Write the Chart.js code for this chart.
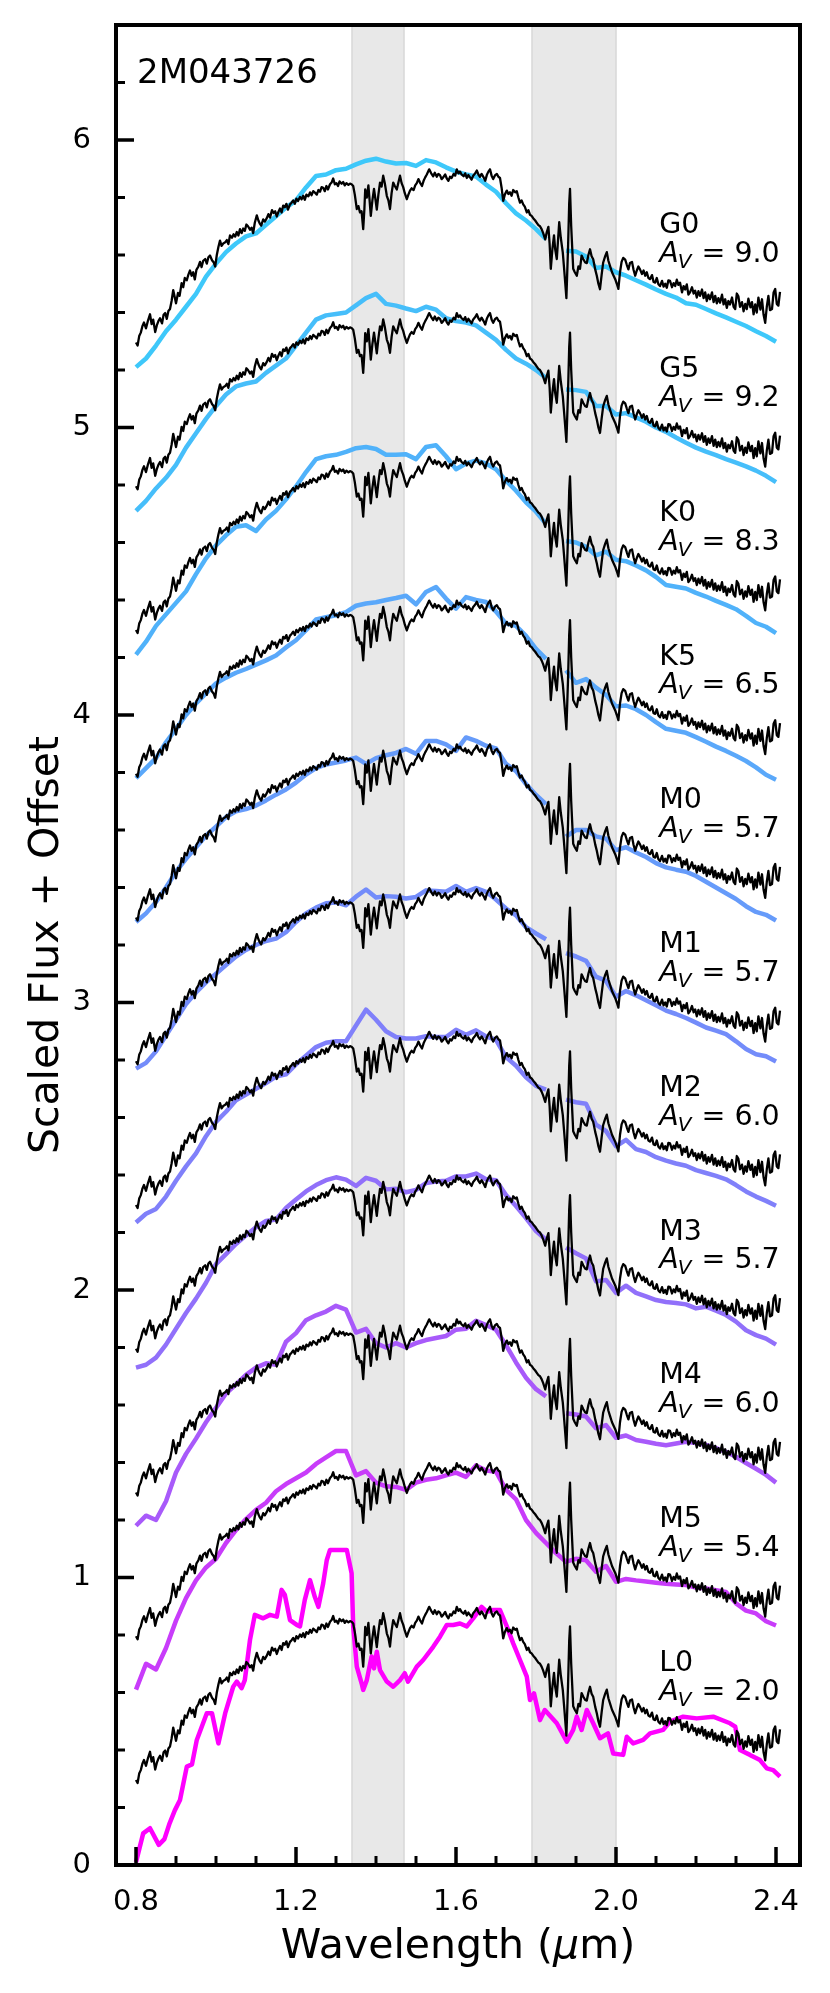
<!DOCTYPE html>
<html>
<head>
<meta charset="utf-8">
<script src="https://cdn.jsdelivr.net/npm/chart.js@4.4.0/dist/chart.umd.min.js"></script>
<style>
  html, body { margin: 0; padding: 0; background: #fff; }
</style>
</head>
<body>
<canvas id="grafico" width="830" height="1993"></canvas>
<script>
// objeto y rejilla de ejes
const nombreObjeto = '2M043726';
const xTicks = [0.8, 1.2, 1.6, 2.0, 2.4];
const xMinorTicks = [0.9, 1.0, 1.1, 1.3, 1.4, 1.5, 1.7, 1.8, 1.9, 2.1, 2.2, 2.3];
const yTicks = [0, 1, 2, 3, 4, 5, 6];
const yMinorTicks = [0.2, 0.4, 0.6, 0.8, 1.2, 1.4, 1.6, 1.8, 2.2, 2.4, 2.6, 2.8, 3.2, 3.4, 3.6, 3.8,
                     4.2, 4.4, 4.6, 4.8, 5.2, 5.4, 5.6, 5.8, 6.2];
// bandas telluricas sombreadas (micras)
const bandas = [[1.34, 1.47], [1.79, 2.0]];

// tipos espectrales, extincion y desplazamiento vertical de cada fila
const tipos = ['G0', 'G5', 'K0', 'K5', 'M0', 'M1', 'M2', 'M3', 'M4', 'M5', 'L0'];
const extinciones = ['9.0', '9.2', '8.3', '6.5', '5.7', '5.7', '6.0', '5.7', '6.0', '5.4', '2.0'];
const desplazamientos = [5.0, 4.5, 4.0, 3.5, 3.0, 2.5, 2.0, 1.5, 1.0, 0.5, 0.0];
const colores = ['rgb(62,200,250)', 'rgb(70,190,250)', 'rgb(80,178,250)', 'rgb(90,168,250)',
                 'rgb(102,155,250)', 'rgb(115,140,250)', 'rgb(128,128,250)', 'rgb(145,112,250)',
                 'rgb(168,90,250)', 'rgb(200,60,250)', 'rgb(255,0,255)'];

// espectro observado (sin desplazamiento): [longitud de onda, flujo]
const espectroObs = [
  [0.800,0.296],[0.804,0.285],[0.808,0.318],[0.812,0.330],[0.816,0.352],[0.820,0.365],[0.825,0.345],[0.830,0.372],
  [0.835,0.394],[0.839,0.360],[0.843,0.375],[0.848,0.332],[0.852,0.355],[0.856,0.370],[0.860,0.380],[0.865,0.362],
  [0.869,0.392],[0.873,0.398],[0.877,0.378],[0.881,0.405],[0.885,0.412],[0.889,0.440],[0.893,0.478],[0.897,0.452],
  [0.900,0.432],[0.905,0.468],[0.909,0.458],[0.914,0.502],[0.918,0.488],[0.922,0.520],[0.927,0.512],[0.931,0.532],
  [0.935,0.546],[0.939,0.528],[0.943,0.540],[0.947,0.515],[0.951,0.548],[0.956,0.560],[0.960,0.576],[0.964,0.558],
  [0.968,0.580],[0.973,0.586],[0.977,0.570],[0.981,0.592],[0.985,0.598],[0.990,0.582],[0.994,0.575],[0.998,0.560],
  [1.002,0.600],[1.006,0.628],[1.010,0.650],[1.014,0.632],[1.018,0.640],[1.023,0.644],[1.027,0.652],[1.031,0.638],
  [1.035,0.668],[1.040,0.660],[1.044,0.672],[1.048,0.664],[1.052,0.680],[1.056,0.668],[1.060,0.690],[1.064,0.676],
  [1.068,0.692],[1.072,0.684],[1.076,0.706],[1.080,0.700],[1.085,0.688],[1.089,0.695],[1.093,0.676],[1.097,0.712],
  [1.102,0.738],[1.106,0.720],[1.110,0.708],[1.113,0.702],[1.118,0.724],[1.122,0.716],[1.127,0.728],[1.131,0.742],
  [1.135,0.730],[1.140,0.756],[1.144,0.746],[1.148,0.752],[1.152,0.734],[1.156,0.750],[1.160,0.762],[1.164,0.748],
  [1.168,0.772],[1.172,0.766],[1.176,0.778],[1.180,0.758],[1.185,0.776],[1.189,0.782],[1.193,0.790],[1.197,0.778],
  [1.201,0.796],[1.205,0.788],[1.210,0.802],[1.214,0.794],[1.218,0.806],[1.222,0.792],[1.226,0.810],[1.231,0.804],
  [1.235,0.818],[1.239,0.808],[1.243,0.822],[1.248,0.816],[1.252,0.810],[1.256,0.826],[1.260,0.820],[1.264,0.836],
  [1.268,0.834],[1.272,0.822],[1.276,0.840],[1.280,0.828],[1.285,0.846],[1.289,0.852],[1.293,0.866],[1.297,0.846],
  [1.301,0.850],[1.305,0.840],[1.309,0.856],[1.314,0.848],[1.318,0.854],[1.322,0.842],[1.326,0.850],[1.331,0.844],
  [1.335,0.848],[1.339,0.846],[1.343,0.840],[1.347,0.810],[1.352,0.760],[1.356,0.770],[1.360,0.748],[1.364,0.752],
  [1.368,0.690],[1.371,0.760],[1.373,0.828],[1.377,0.800],[1.381,0.842],[1.384,0.790],[1.387,0.736],[1.391,0.790],
  [1.395,0.830],[1.398,0.800],[1.402,0.758],[1.406,0.810],[1.410,0.852],[1.414,0.838],[1.418,0.876],[1.422,0.850],
  [1.427,0.806],[1.431,0.790],[1.435,0.760],[1.439,0.815],[1.443,0.852],[1.447,0.840],[1.452,0.828],[1.456,0.852],
  [1.460,0.876],[1.464,0.850],[1.468,0.836],[1.472,0.815],[1.477,0.794],[1.481,0.810],[1.485,0.824],[1.489,0.832],
  [1.494,0.826],[1.498,0.842],[1.502,0.850],[1.506,0.864],[1.510,0.852],[1.515,0.840],[1.519,0.858],[1.523,0.870],
  [1.527,0.880],[1.533,0.898],[1.538,0.884],[1.543,0.874],[1.547,0.886],[1.552,0.872],[1.556,0.882],[1.560,0.878],
  [1.564,0.864],[1.568,0.870],[1.573,0.880],[1.577,0.866],[1.581,0.858],[1.585,0.872],[1.589,0.868],[1.594,0.882],
  [1.598,0.876],[1.602,0.898],[1.606,0.884],[1.610,0.890],[1.614,0.880],[1.619,0.874],[1.623,0.884],[1.627,0.868],
  [1.631,0.878],[1.635,0.870],[1.639,0.862],[1.643,0.876],[1.648,0.884],[1.652,0.894],[1.656,0.880],[1.660,0.872],
  [1.664,0.882],[1.669,0.870],[1.673,0.858],[1.677,0.878],[1.681,0.890],[1.685,0.898],[1.689,0.876],[1.693,0.864],
  [1.698,0.878],[1.702,0.882],[1.706,0.872],[1.710,0.868],[1.714,0.834],[1.718,0.788],[1.722,0.810],[1.727,0.824],
  [1.731,0.812],[1.735,0.818],[1.739,0.806],[1.743,0.826],[1.748,0.818],[1.752,0.822],[1.756,0.800],[1.760,0.782],
  [1.764,0.790],[1.768,0.776],[1.772,0.768],[1.777,0.748],[1.781,0.756],[1.785,0.740],[1.789,0.736],[1.793,0.728],
  [1.798,0.720],[1.802,0.712],[1.806,0.704],[1.810,0.700],[1.814,0.690],[1.818,0.676],[1.823,0.654],[1.827,0.680],
  [1.831,0.698],[1.834,0.640],[1.837,0.552],[1.841,0.620],[1.845,0.668],[1.848,0.620],[1.852,0.586],[1.855,0.650],
  [1.858,0.714],[1.862,0.660],[1.867,0.608],[1.871,0.540],[1.876,0.450],[1.880,0.620],[1.883,0.780],[1.885,0.830],
  [1.888,0.700],[1.893,0.552],[1.897,0.540],[1.902,0.528],[1.906,0.560],[1.910,0.552],[1.914,0.598],[1.918,0.586],
  [1.923,0.574],[1.927,0.572],[1.931,0.600],[1.935,0.620],[1.939,0.596],[1.943,0.585],[1.948,0.550],[1.952,0.528],
  [1.956,0.500],[1.960,0.481],[1.964,0.530],[1.968,0.574],[1.973,0.596],[1.977,0.610],[1.981,0.580],[1.985,0.562],
  [1.990,0.540],[1.994,0.528],[1.998,0.516],[2.002,0.500],[2.006,0.482],[2.010,0.540],[2.014,0.576],[2.018,0.590],
  [2.023,0.584],[2.027,0.566],[2.031,0.550],[2.035,0.572],[2.040,0.576],[2.044,0.548],[2.048,0.528],[2.052,0.546],
  [2.056,0.560],[2.060,0.550],[2.065,0.534],[2.069,0.546],[2.073,0.528],[2.077,0.540],[2.081,0.520],[2.085,0.516],
  [2.090,0.530],[2.094,0.506],[2.098,0.504],[2.102,0.520],[2.106,0.498],[2.110,0.492],[2.115,0.510],[2.119,0.490],
  [2.123,0.500],[2.127,0.486],[2.131,0.512],[2.135,0.510],[2.140,0.488],[2.144,0.502],[2.148,0.492],[2.152,0.514],
  [2.156,0.496],[2.160,0.504],[2.165,0.470],[2.169,0.492],[2.173,0.480],[2.177,0.498],[2.181,0.462],[2.185,0.470],
  [2.190,0.488],[2.194,0.466],[2.198,0.476],[2.202,0.452],[2.206,0.474],[2.210,0.458],[2.215,0.480],[2.219,0.450],
  [2.223,0.470],[2.227,0.440],[2.231,0.462],[2.235,0.446],[2.240,0.470],[2.244,0.436],[2.248,0.458],[2.252,0.432],
  [2.256,0.450],[2.260,0.434],[2.265,0.462],[2.269,0.428],[2.273,0.446],[2.277,0.416],[2.281,0.440],[2.285,0.428],
  [2.290,0.452],[2.294,0.420],[2.298,0.412],[2.302,0.466],[2.306,0.456],[2.310,0.420],[2.315,0.436],[2.319,0.404],
  [2.323,0.430],[2.327,0.412],[2.331,0.448],[2.336,0.418],[2.340,0.436],[2.344,0.394],[2.348,0.428],[2.352,0.400],
  [2.356,0.452],[2.361,0.410],[2.365,0.446],[2.369,0.392],[2.373,0.364],[2.377,0.420],[2.381,0.458],[2.385,0.408],
  [2.390,0.412],[2.394,0.470],[2.398,0.482],[2.402,0.430],[2.406,0.424],[2.410,0.472]
];

// rejilla comun de los modelos G0..M5 (null = hueco)
const modelWave = [0.800,0.825,0.850,0.875,0.900,0.925,0.950,0.975,1.000,1.025,1.050,1.075,1.100,1.125,1.150,
  1.175,1.200,1.225,1.250,1.275,1.300,1.325,1.350,1.375,1.400,1.425,1.450,1.475,1.500,1.525,1.550,1.575,1.600,
  1.625,1.650,1.675,1.700,1.725,1.750,1.775,1.800,1.825,1.850,1.875,1.900,1.925,1.950,1.975,2.000,2.025,2.050,
  2.075,2.100,2.125,2.150,2.175,2.200,2.225,2.250,2.275,2.300,2.325,2.350,2.375,2.400];
const fluxG0 = [0.21,0.24,0.285,0.335,0.375,0.42,0.465,0.525,0.57,0.61,0.64,0.665,0.675,0.705,0.735,0.765,0.79,
  0.835,0.875,0.88,0.895,0.90,0.915,0.928,0.935,0.925,0.918,0.92,0.91,0.93,0.922,0.905,0.89,0.88,0.873,0.845,
  0.82,0.78,0.745,0.72,0.69,0.655,null,0.615,0.612,0.595,0.555,0.56,0.54,0.528,0.512,0.497,0.48,0.465,0.452,
  0.432,0.427,0.412,0.397,0.383,0.368,0.353,0.335,0.318,0.298];
const fluxG5 = [0.21,0.245,0.288,0.325,0.37,0.43,0.48,0.53,0.575,0.615,0.643,0.653,0.66,0.69,0.715,0.74,0.785,
  0.83,0.875,0.89,0.895,0.9,0.925,0.95,0.965,0.93,0.924,0.914,0.905,0.92,0.91,0.88,0.87,0.865,0.855,0.83,0.805,
  0.77,0.74,0.722,0.7,0.672,null,0.632,0.63,0.624,0.575,0.575,0.545,0.55,0.535,0.52,0.5,0.485,0.465,0.447,0.43,
  0.416,0.404,0.39,0.378,0.365,0.35,0.332,0.31];
const fluxK0 = [0.21,0.255,0.31,0.35,0.39,0.43,0.49,0.545,0.59,0.625,0.655,0.66,0.64,0.68,0.71,0.75,0.795,0.845,
  0.89,0.9,0.905,0.915,0.928,0.932,0.925,0.905,0.905,0.907,0.89,0.932,0.938,0.9,0.855,0.875,0.885,0.875,0.855,
  0.815,0.78,0.74,0.707,0.665,null,0.605,0.6,0.585,0.555,0.568,0.54,0.535,0.52,0.503,0.48,0.452,0.446,0.44,0.425,
  0.412,0.397,0.383,0.368,0.345,0.32,0.307,0.285];
const fluxK5 = [0.28,0.315,0.35,0.405,0.452,0.5,0.54,0.575,0.61,0.63,0.647,0.66,0.675,0.69,0.707,0.735,0.76,0.795,
  0.832,0.84,0.847,0.858,0.88,0.888,0.892,0.9,0.907,0.915,0.885,0.928,0.945,0.905,0.87,0.91,0.9,0.893,0.86,0.818,
  0.81,0.775,0.73,0.695,null,0.655,0.612,0.625,0.595,0.57,0.53,0.533,0.52,0.5,0.475,0.452,0.445,0.438,0.423,0.407,
  0.39,0.375,0.358,0.34,0.318,0.292,0.275];
const fluxM0 = [0.28,0.31,0.35,0.4,0.455,0.5,0.54,0.58,0.612,0.645,0.665,0.673,0.685,0.703,0.723,0.741,0.765,0.793,
  0.815,0.828,0.835,0.842,0.852,0.83,0.85,0.86,0.868,0.882,0.865,0.91,0.91,0.898,0.875,0.922,0.91,0.893,0.884,0.83,
  0.805,0.76,0.722,0.69,null,0.577,0.6,0.6,0.578,0.57,0.53,0.54,0.522,0.506,0.485,0.47,0.462,0.455,0.44,0.42,0.4,
  0.38,0.36,0.335,0.315,0.305,0.285];
const fluxM1 = [0.27,0.29,0.33,0.385,0.44,0.495,0.535,0.57,0.6,0.63,0.66,0.683,0.7,0.714,0.722,0.745,0.78,0.81,
  0.83,0.845,0.848,0.838,0.868,0.893,0.865,0.87,0.868,0.862,0.867,0.89,0.888,0.885,0.905,0.885,0.898,0.885,0.858,
  0.827,0.803,0.762,0.74,0.72,null,0.672,0.66,0.645,0.59,0.575,0.52,0.54,0.525,0.508,0.49,0.472,0.46,0.446,0.43,
  0.413,0.402,0.39,0.365,0.338,0.32,0.313,0.295];
const fluxM2 = [0.235,0.265,0.282,0.325,0.38,0.43,0.475,0.535,0.585,0.62,0.66,0.68,0.7,0.72,0.742,0.75,0.785,0.815,
  0.845,0.86,0.865,0.865,0.92,0.975,0.94,0.9,0.88,0.875,0.875,0.883,0.88,0.88,0.905,0.888,0.903,0.882,0.87,0.81,
  0.78,0.74,0.71,0.697,null,0.662,0.653,0.648,0.575,0.553,0.5,0.522,0.49,0.48,0.462,0.45,0.44,0.432,0.417,0.407,
  0.397,0.385,0.365,0.343,0.325,0.31,0.293];
const fluxM3 = [0.23,0.24,0.265,0.31,0.365,0.42,0.47,0.525,0.59,0.625,0.66,0.69,0.718,0.74,0.745,0.785,0.815,0.843,
  0.865,0.882,0.892,0.884,0.862,0.89,0.88,0.85,0.852,0.84,0.848,0.872,0.877,0.88,0.895,0.895,0.905,0.885,0.882,
  0.83,0.792,0.75,0.705,0.675,null,0.648,0.628,0.61,0.53,0.535,0.49,0.515,0.49,0.478,0.465,0.458,0.455,0.45,0.436,
  0.442,0.428,0.413,0.39,0.36,0.343,0.331,0.31];
const fluxM4 = [0.18,0.215,0.2,0.265,0.365,0.43,0.483,0.54,0.59,0.64,0.672,0.705,0.73,0.745,0.74,0.82,0.85,0.895,
  0.912,0.925,0.945,0.932,0.852,0.865,0.815,0.8,0.815,0.8,0.815,0.826,0.833,0.84,0.862,0.865,0.893,0.878,0.862,
  0.808,0.748,0.695,0.655,0.63,null,0.571,0.567,0.56,0.519,0.53,0.486,0.494,0.478,0.472,0.465,0.46,0.466,0.472,
  0.468,0.461,0.45,0.437,0.42,0.398,0.378,0.357,0.33];
const fluxM5 = [0.11,0.2,0.18,0.255,0.35,0.428,0.49,0.535,0.565,0.62,0.665,0.703,0.735,0.76,0.8,0.825,0.845,0.865,
  0.895,0.918,0.94,0.94,0.855,0.87,0.83,0.817,0.815,0.805,0.83,0.84,0.845,0.855,0.865,0.85,0.89,0.872,0.868,0.805,
  0.772,0.7,0.655,0.62,0.585,0.555,0.565,0.56,0.52,0.54,0.485,0.495,0.49,0.486,0.482,0.478,0.476,0.474,0.465,0.462,
  0.456,0.45,0.41,0.385,0.375,0.348,0.333];

// el modelo L0 tiene mas estructura, va con su propia rejilla
const l0Wave = [0.800,0.818,0.835,0.857,0.871,0.884,0.897,0.910,0.927,0.940,0.952,0.977,0.990,1.006,1.023,1.043,
  1.052,1.064,1.072,1.085,1.097,1.118,1.135,1.152,1.164,1.172,1.185,1.202,1.210,1.222,1.235,1.247,1.256,1.268,
  1.277,1.285,1.302,1.327,1.339,1.343,1.352,1.364,1.368,1.377,1.389,1.395,1.402,1.410,1.427,1.443,1.460,1.472,
  1.480,1.502,1.518,1.543,1.560,1.577,1.593,1.610,1.627,1.643,1.664,1.677,1.693,1.710,1.727,1.743,1.760,1.777,
  1.785,1.795,1.810,1.822,1.852,1.877,1.893,1.902,1.914,1.927,1.943,1.960,1.980,1.993,2.018,2.027,2.043,2.068,
  2.085,2.118,2.135,2.168,2.202,2.243,2.285,2.298,2.310,2.335,2.360,2.377,2.393,2.410];
const l0Flux = [0.01,0.11,0.128,0.07,0.09,0.145,0.19,0.226,0.342,0.35,0.435,0.528,0.528,0.423,0.528,0.62,0.638,
  0.615,0.643,0.783,0.87,0.858,0.87,0.864,0.957,0.94,0.852,0.835,0.83,0.922,0.991,0.933,0.898,0.98,1.061,1.096,
  1.096,1.096,1.015,0.829,0.69,0.632,0.609,0.643,0.725,0.684,0.742,0.678,0.638,0.62,0.643,0.667,0.638,0.69,0.713,
  0.759,0.794,0.835,0.835,0.84,0.83,0.858,0.898,0.881,0.887,0.887,0.83,0.771,0.713,0.655,0.574,0.597,0.504,0.539,
  0.493,0.429,0.47,0.516,0.47,0.539,0.493,0.441,0.458,0.388,0.383,0.446,0.423,0.435,0.458,0.47,0.499,0.516,0.51,
  0.516,0.493,0.481,0.4,0.383,0.365,0.336,0.33,0.307];

const modelos = [fluxG0, fluxG5, fluxK0, fluxK5, fluxM0, fluxM1, fluxM2, fluxM3, fluxM4, fluxM5];

Chart.defaults.font.family = 'DejaVu Sans';
Chart.defaults.color = '#000';

// armado de los datasets: observado (negro, encima) y modelo (color) por fila
let datasets = [];
desplazamientos.forEach((off, i) => {
    datasets.push({
        data: espectroObs.map(p => ({ x: p[0], y: p[1] + off })),
        borderColor: '#000',
        borderWidth: 2.3,
        order: 0
    });
    let ondas = i < modelos.length ? modelWave : l0Wave;
    let flujo = i < modelos.length ? modelos[i] : l0Flux;
    datasets.push({
        data: ondas.map((w, j) => ({ x: w, y: flujo[j] === null ? null : flujo[j] + off })),
        borderColor: colores[i],
        borderWidth: 4.5,
        order: 1
    });
});

// bandas grises, ejes con ticks hacia adentro y textos
const decoraciones = {
    id: 'decoraciones',
    beforeDatasetsDraw(chart) {
        const { ctx, chartArea: a, scales: { x } } = chart;
        ctx.save();
        bandas.forEach(([b0, b1]) => {
            let x0 = x.getPixelForValue(b0), x1 = x.getPixelForValue(b1);
            ctx.fillStyle = '#e8e8e8';
            ctx.fillRect(x0, a.top, x1 - x0, a.bottom - a.top);
            ctx.strokeStyle = '#d8d8d8';
            ctx.lineWidth = 1.5;
            ctx.beginPath();
            ctx.moveTo(x0, a.top); ctx.lineTo(x0, a.bottom);
            ctx.moveTo(x1, a.top); ctx.lineTo(x1, a.bottom);
            ctx.stroke();
        });
        ctx.restore();
    },
    afterDatasetsDraw(chart) {
        const { ctx, chartArea: a, scales: { x, y } } = chart;
        ctx.save();
        ctx.strokeStyle = '#000';
        // ticks hacia adentro
        let tick = (px, py, largo, dir, ancho) => {
            ctx.lineWidth = ancho;
            ctx.beginPath();
            ctx.moveTo(px, py);
            if (dir === 'x') ctx.lineTo(px, py - largo); else ctx.lineTo(px + largo, py);
            ctx.stroke();
        };
        xTicks.forEach(v => tick(x.getPixelForValue(v), a.bottom, 18, 'x', 3.5));
        xMinorTicks.forEach(v => tick(x.getPixelForValue(v), a.bottom, 9, 'x', 3));
        yTicks.forEach(v => tick(a.left, y.getPixelForValue(v), 18, 'y', 3.5));
        yMinorTicks.forEach(v => tick(a.left, y.getPixelForValue(v), 9, 'y', 3));
        // marco
        ctx.lineWidth = 4;
        ctx.strokeRect(a.left, a.top, a.right - a.left, a.bottom - a.top);

        ctx.fillStyle = '#000';
        ctx.textAlign = 'left';
        ctx.textBaseline = 'alphabetic';
        ctx.font = '34px "DejaVu Sans"';
        ctx.fillText(nombreObjeto, 137, 83);

        tipos.forEach((t, i) => {
            let px = x.getPixelForValue(2.108);
            let py1 = y.getPixelForValue(desplazamientos[i] + 0.675);
            let py2 = y.getPixelForValue(desplazamientos[i] + 0.575);
            ctx.font = '28.5px "DejaVu Sans"';
            ctx.fillText(t, px, py1);
            ctx.font = 'italic 28.5px "DejaVu Sans"';
            ctx.fillText('A', px, py2);
            let w = ctx.measureText('A').width;
            ctx.font = 'italic 20px "DejaVu Sans"';
            ctx.fillText('V', px + w - 1, py2 + 6);
            w += ctx.measureText('V').width;
            ctx.font = '28.5px "DejaVu Sans"';
            ctx.fillText(' = ' + extinciones[i], px + w, py2);
        });

        // titulo eje x con mu en italica
        let partes = [['Wavelength (', ''], ['\u03bc', 'italic '], ['m)', '']];
        let total = 0;
        partes.forEach(p => { ctx.font = p[1] + '41px "DejaVu Sans"'; total += ctx.measureText(p[0]).width; });
        let cx = (a.left + a.right) / 2 - total / 2;
        partes.forEach(p => {
            ctx.font = p[1] + '41px "DejaVu Sans"';
            ctx.fillText(p[0], cx, 1958);
            cx += ctx.measureText(p[0]).width;
        });

        // titulo eje y
        ctx.translate(58, (a.top + a.bottom) / 2);
        ctx.rotate(-Math.PI / 2);
        ctx.textAlign = 'center';
        ctx.font = '41px "DejaVu Sans"';
        ctx.fillText('Scaled Flux + Offset', 0, 0);
        ctx.restore();
    }
};

new Chart(document.getElementById('grafico'), {
    type: 'line',
    data: { datasets: datasets },
    options: {
        responsive: false,
        animation: false,
        devicePixelRatio: 1,
        layout: { padding: { left: 0, right: 30, top: 25, bottom: 0 } },
        plugins: { legend: { display: false }, tooltip: { enabled: false } },
        elements: {
            point: { radius: 0 },
            line: { tension: 0, borderJoinStyle: 'round', borderCapStyle: 'butt' }
        },
        scales: {
            x: {
                type: 'linear',
                min: 0.75,
                max: 2.46,
                grid: { display: false, drawTicks: false },
                border: { display: false },
                afterBuildTicks: s => { s.ticks = xTicks.map(v => ({ value: v })); },
                // alto fijo y sin relleno extra para que el area quede donde la original
                afterFit: s => { s.height = 128; s.paddingLeft = 0; s.paddingRight = 0; },
                ticks: {
                    callback: v => v.toFixed(1),
                    font: { size: 29 },
                    padding: 20,
                    maxRotation: 0,
                    autoSkip: false
                }
            },
            y: {
                type: 'linear',
                min: 0,
                max: 6.4,
                grid: { display: false, drawTicks: false },
                border: { display: false },
                afterBuildTicks: s => { s.ticks = yTicks.map(v => ({ value: v })); },
                afterFit: s => { s.width = 116; s.paddingTop = 0; s.paddingBottom = 0; },
                ticks: {
                    callback: v => String(v),
                    font: { size: 29 },
                    padding: 25
                }
            }
        }
    },
    plugins: [decoraciones]
});
</script>
</body>
</html>
